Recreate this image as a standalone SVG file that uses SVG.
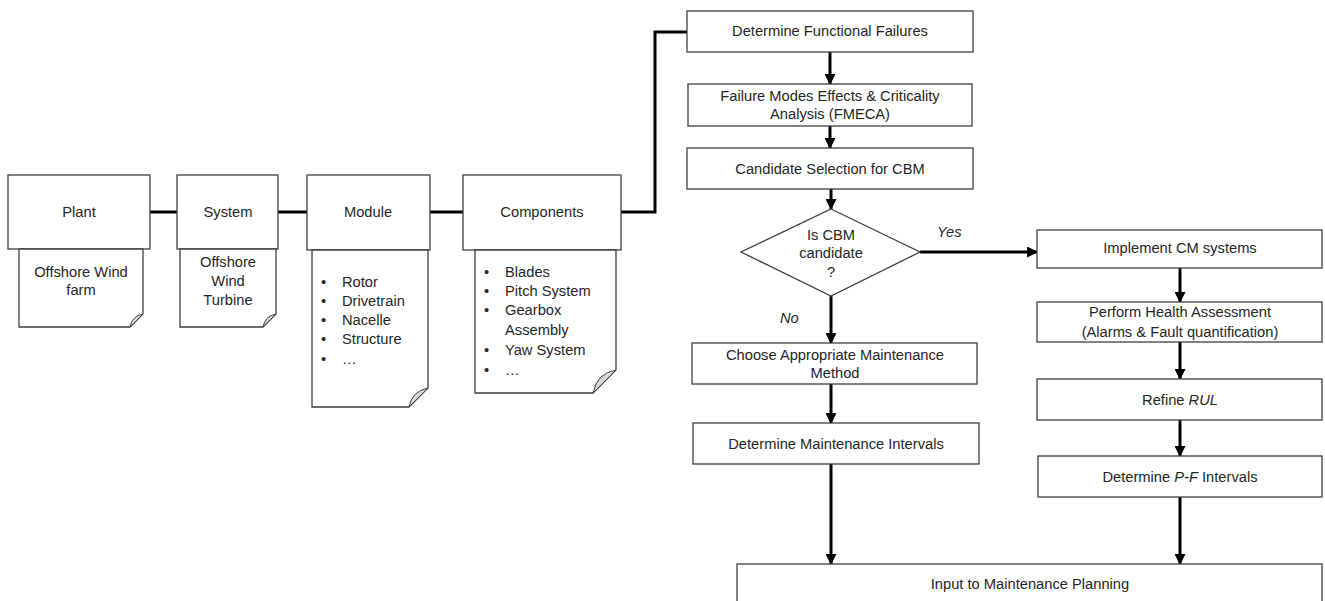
<svg xmlns="http://www.w3.org/2000/svg" width="1325" height="601" viewBox="0 0 1325 601">
<defs>
<style>
.box{fill:#fff;stroke:#404040;stroke-width:1.3}
.doc{fill:#fff;stroke:#404040;stroke-width:1.3}
.fold{fill:#d9d9d9;stroke:#404040;stroke-width:1}
.t{font-family:"Liberation Sans",Arial,sans-serif;font-size:14.7px;fill:#262626;text-anchor:middle}
.l{font-family:"Liberation Sans",Arial,sans-serif;font-size:14.7px;fill:#262626}
.i{font-style:italic}
.c{fill:none;stroke:#000;stroke-width:3}
.a{fill:none;stroke:#000;stroke-width:3;marker-end:url(#ah)}
</style>
<marker id="ah" viewBox="0 0 10 10" refX="9" refY="5" markerUnits="userSpaceOnUse" markerWidth="11" markerHeight="11" orient="auto">
<path d="M0,0 L10,5 L0,10 Z" fill="#000"/>
</marker>
</defs>

<g id="connectors">
<path class="c" d="M150,212 H177"/>
<path class="c" d="M278,212 H307"/>
<path class="c" d="M430,212 H463"/>
<path class="c" d="M621,212 H655 V32 H687"/>
<path class="a" d="M830,52 V84"/>
<path class="a" d="M830,126 V148"/>
<path class="a" d="M831,189 V209"/>
<path class="a" d="M831,296 V343"/>
<path class="a" d="M831,384 V423"/>
<path class="a" d="M831,464 V564"/>
<path class="a" d="M920,252 H1037"/>
<path class="a" d="M1180,268 V302"/>
<path class="a" d="M1180,342 V379"/>
<path class="a" d="M1180,420 V456"/>
<path class="a" d="M1180,497 V564"/>
<text class="l i" x="937" y="237">Yes</text>
<text class="l i" x="780" y="323">No</text>
</g>

<g id="plant">
<rect class="box" x="8" y="175" width="142" height="74"/>
<text class="t" x="79" y="217">Plant</text>
<path class="doc" d="M19,249 H143 V314 L130,327 H19 Z"/>
<path class="fold" d="M130,327 Q132,316 143,314 Z"/>
<text class="t" x="81" y="277">Offshore Wind</text>
<text class="t" x="81" y="295">farm</text>
</g>

<g id="system">
<rect class="box" x="177" y="175" width="101" height="74"/>
<text class="t" x="228" y="217">System</text>
<path class="doc" d="M180,249 H276 V314 L263,327 H180 Z"/>
<path class="fold" d="M263,327 Q265,316 276,314 Z"/>
<text class="t" x="228" y="267">Offshore</text>
<text class="t" x="228" y="286">Wind</text>
<text class="t" x="228" y="305">Turbine</text>
</g>

<g id="module">
<rect class="box" x="307" y="175" width="123" height="75"/>
<text class="t" x="368" y="217">Module</text>
<path class="doc" d="M312,250 H428 V388 L409,407 H312 Z"/>
<path class="fold" d="M409,407 Q412,391 428,388 Z"/>
<g class="l">
<text x="321" y="287">•</text><text x="342" y="287">Rotor</text>
<text x="321" y="306">•</text><text x="342" y="306">Drivetrain</text>
<text x="321" y="325">•</text><text x="342" y="325">Nacelle</text>
<text x="321" y="344">•</text><text x="342" y="344">Structure</text>
<text x="321" y="364">•</text><text x="342" y="364">…</text>
</g>
</g>

<g id="components">
<rect class="box" x="463" y="175" width="158" height="75"/>
<text class="t" x="542" y="217">Components</text>
<path class="doc" d="M475,250 H616 V370 L593,393 H475 Z"/>
<path class="fold" d="M593,393 Q597,373 616,370 Z"/>
<g class="l">
<text x="484" y="277">•</text><text x="505" y="277">Blades</text>
<text x="484" y="296">•</text><text x="505" y="296">Pitch System</text>
<text x="484" y="315">•</text><text x="505" y="315">Gearbox</text>
<text x="505" y="335">Assembly</text>
<text x="484" y="355">•</text><text x="505" y="355">Yaw System</text>
<text x="484" y="375">•</text><text x="505" y="375">…</text>
</g>
</g>

<g id="dff">
<rect class="box" x="687" y="11" width="286" height="41"/>
<text class="t" x="830" y="36">Determine Functional Failures</text>
</g>

<g id="fmeca">
<rect class="box" x="688" y="84" width="284" height="42"/>
<text class="t" x="830" y="101">Failure Modes Effects &amp; Criticality</text>
<text class="t" x="830" y="119">Analysis (FMECA)</text>
</g>

<g id="candidate">
<rect class="box" x="687" y="148" width="286" height="41"/>
<text class="t" x="830" y="174">Candidate Selection for CBM</text>
</g>

<g id="decision">
<path class="box" d="M831,209 L920,252 L831,296 L741,252 Z"/>
<text class="t" x="831" y="240">Is CBM</text>
<text class="t" x="831" y="258">candidate</text>
<text class="t" x="831" y="277">?</text>
</g>

<g id="choose">
<rect class="box" x="692" y="343" width="285" height="41"/>
<text class="t" x="835" y="360">Choose Appropriate Maintenance</text>
<text class="t" x="835" y="378">Method</text>
</g>

<g id="dmi">
<rect class="box" x="693" y="423" width="286" height="41"/>
<text class="t" x="836" y="449">Determine Maintenance Intervals</text>
</g>

<g id="implement">
<rect class="box" x="1037" y="230" width="285" height="38"/>
<text class="t" x="1180" y="253">Implement CM systems</text>
</g>

<g id="health">
<rect class="box" x="1037" y="302" width="285" height="40"/>
<text class="t" x="1180" y="317">Perform Health Assessment</text>
<text class="t" x="1180" y="337">(Alarms &amp; Fault quantification)</text>
</g>

<g id="rul">
<rect class="box" x="1037" y="379" width="285" height="41"/>
<text class="t" x="1180" y="405">Refine <tspan class="i">RUL</tspan></text>
</g>

<g id="pf">
<rect class="box" x="1038" y="456" width="284" height="41"/>
<text class="t" x="1180" y="482">Determine <tspan class="i">P-F</tspan> Intervals</text>
</g>

<g id="input">
<rect class="box" x="737" y="564" width="585" height="60"/>
<text class="t" x="1030" y="589">Input to Maintenance Planning</text>
</g>
</svg>
